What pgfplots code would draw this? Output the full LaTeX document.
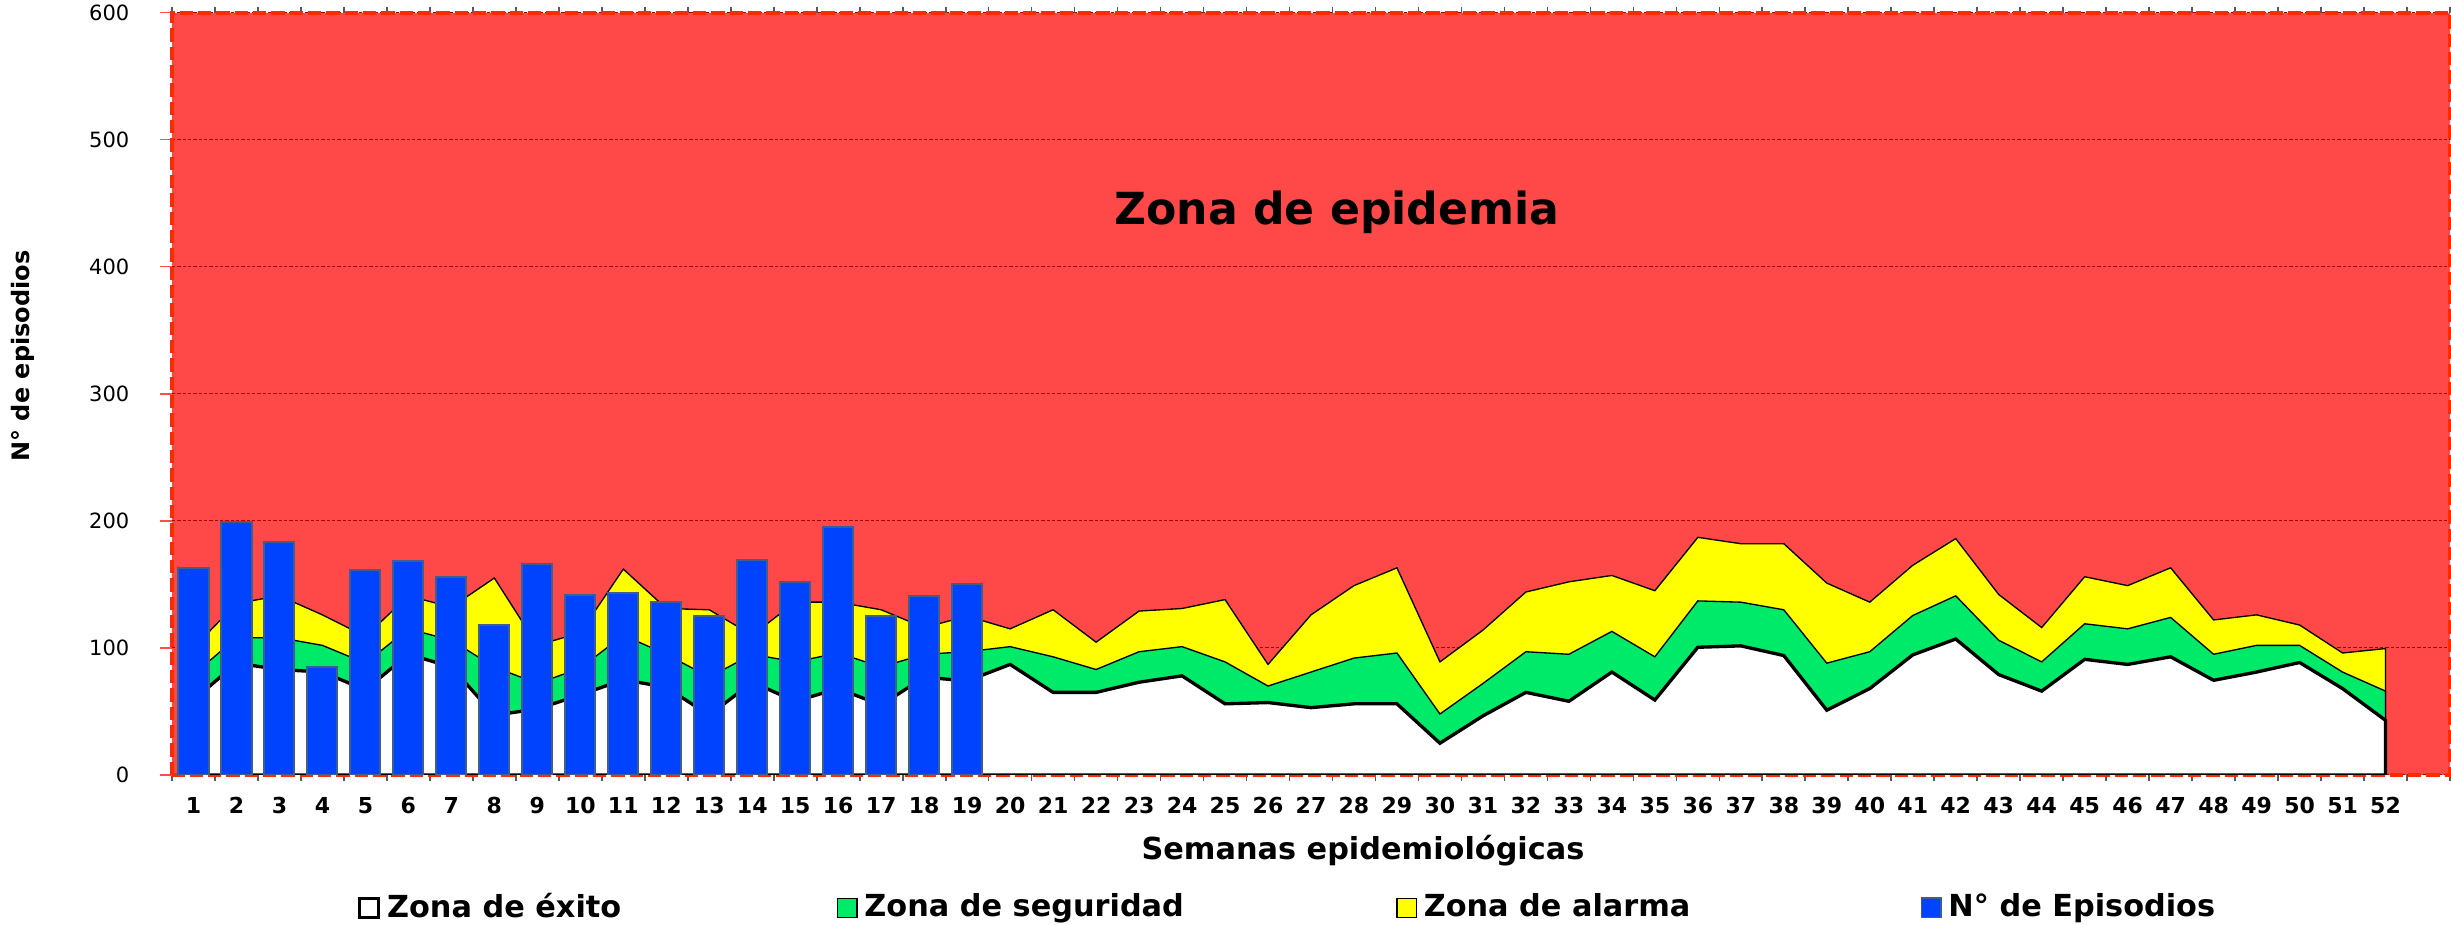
\documentclass[border=0pt]{standalone}
\usepackage{fontspec}
\setmainfont{DejaVu Sans}
\usepackage{pgfplots}
\pgfplotsset{compat=1.18}
\usepackage{pgfplotstable}

\definecolor{redbg}{HTML}{FF4848}
\definecolor{redborder}{HTML}{FF2A00}
\definecolor{gridred}{HTML}{A00000}
\definecolor{zyellow}{HTML}{FFFF00}
\definecolor{zgreen}{HTML}{00EA6A}
\definecolor{barblue}{HTML}{0043FF}
\definecolor{baredge}{HTML}{3D5E8E}

\pgfplotstableread{
wk ex seg ala
1 59 79 100
2 88 108 135
3 83 108 141
4 81 102 126
5 67 88 109
6 95 115 141
7 85 106 132
8 47 85 155
9 52 72 102
10 63 84 112
11 75 110 162
12 69 95 131
13 47 77 130
14 73 95 110
15 58 89 136
16 68 96 136
17 55 85 130
18 77 95 116
19 74 97 125
20 87 101 115
21 65 93 130
22 65 83 104.5
23 73 97 129
24 78 101 131
25 56 89 138
26 57 70 87
27 53 81 126
28 56 92 149
29 56 96 163
30 25 48 89
31 46.5 72 114
32 65 97 144
33 58 95 152
34 81 113 157
35 59 93 145
36 100.5 137 187
37 101.6 136 182
38 94 130 182
39 51 88 151
40 68 97 136
41 94.5 125.5 165
42 107 141 186
43 79 106 142
44 66 89 116
45 91 119 156
46 87 115 149
47 93 124 163
48 74.5 95 122
49 81 102 126
50 88.5 102 118
51 68 81 96
52 43 66 99.5
}\zones

\pgfplotstableread{
wk ep
1 163
2 199
3 183
4 85
5 161
6 168
7 156
8 118
9 166
10 142
11 143
12 136
13 125
14 169
15 152
16 195
17 125
18 141
19 150
}\bars

\begin{document}
\begin{tikzpicture}
\begin{axis}[
  at={(0pt,0pt)}, anchor=south west,
  scale only axis, width=683.4pt, height=228.75pt,
  xmin=0.5, xmax=53.5, ymin=0, ymax=600,
  xtick={1,...,52}, minor xtick={0.5,1.5,...,53.5},
  ytick={0,100,...,600},
  tick align=outside,
  major tick length=3.6pt, minor tick length=1.8pt,
  major x tick style={draw=none},
  minor x tick style={draw=black!65, line width=0.5pt},
  ytick style={draw=red!70, line width=0.5pt},
  axis line style={draw=redborder, line width=1.2pt, dash pattern=on 4pt off 1.5pt},
  axis background/.style={fill=redbg},
  ymajorgrids,
  major grid style={draw=gridred, line width=0.3pt, dash pattern=on 1pt off 0.6pt},
  /pgf/number format/assume math mode=true,
  xticklabel style={font=\fontsize{6.6}{7}\selectfont\bfseries, anchor=base, yshift=-8.1pt},
  yticklabel style={font=\fontsize{6.3}{7}\selectfont, anchor=east, inner sep=0pt, xshift=-9pt},
  xlabel={Semanas epidemiológicas},
  ylabel={N° de episodios},
  every axis x label/.style={at={(axis description cs:0.5228,-0.0997)}, anchor=center, font=\fontsize{9.1}{10}\selectfont\bfseries},
  every axis y label/.style={at={(axis description cs:-0.0654,0.5495)}, rotate=90, anchor=center, font=\fontsize{7.2}{8}\selectfont\bfseries},
  sqlegend/.style={legend image code/.code={\draw[##1] (0pt,-2.9pt) rectangle (5.8pt,2.9pt); \path (7.8pt,0pt);}},
  legend columns=4,
  legend style={at={(axis description cs:0.0817,-0.1744)}, anchor=west, draw=none, fill=none,
    inner sep=0pt, outer sep=0pt, column sep=0pt,
    font=\fontsize{9.1}{10}\selectfont\bfseries,
    nodes={inner sep=0pt, outer sep=0pt, anchor=west}},
  legend cell align=left,
]
\addlegendimage{sqlegend, draw=black, line width=0.9pt, fill=white}
\addlegendentry{\makebox[135.0pt][l]{Zona de éxito}}
\addlegendimage{sqlegend, draw=black, line width=0.4pt, fill=zgreen}
\addlegendentry{\makebox[159.6pt][l]{Zona de seguridad}}
\addlegendimage{sqlegend, draw=black, line width=0.4pt, fill=zyellow}
\addlegendentry{\makebox[149.1pt][l]{Zona de alarma}}
\addlegendimage{sqlegend, draw=baredge, line width=0.5pt, fill=barblue}
\addlegendentry{N° de Episodios}

\addplot[draw=black, line width=0.4pt, fill=zyellow, forget plot] table[x=wk, y=ala] {\zones} \closedcycle;
\addplot[draw=black, line width=0.4pt, fill=zgreen, forget plot] table[x=wk, y=seg] {\zones} \closedcycle;
\addplot[draw=black, line width=1.0pt, fill=white, forget plot] table[x=wk, y=ex] {\zones} \closedcycle;
\addplot[ybar, bar width=0.7, bar shift=0pt, fill=barblue, draw=baredge, line width=0.6pt, forget plot] table[x=wk, y=ep] {\bars};

\node[font=\fontsize{13.25}{15}\selectfont\bfseries, anchor=base] at (axis cs:27.6,433) {Zona de epidemia};
\end{axis}
\pgfresetboundingbox
\path[use as bounding box] (-51.6pt,-45pt) rectangle (683.7pt,232.5pt);
\end{tikzpicture}
\end{document}
